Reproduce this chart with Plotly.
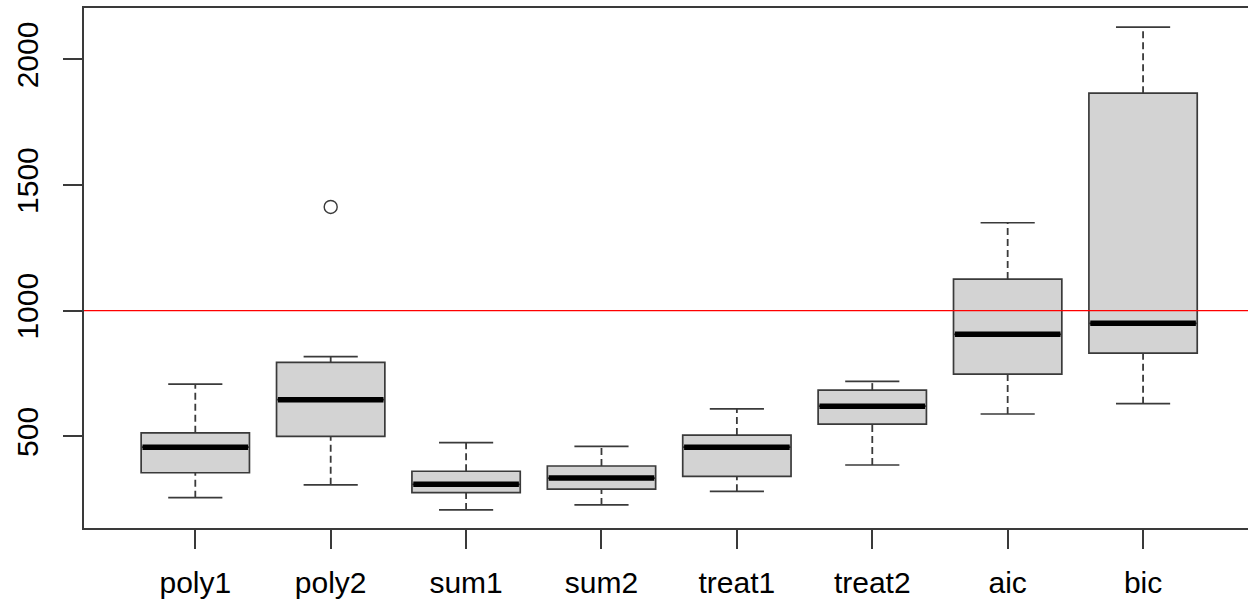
import plotly.graph_objects as go

# Box-plot summaries per model
categories = ["poly1", "poly2", "sum1", "sum2", "treat1", "treat2", "aic", "bic"]
lower_whisker = [256, 307, 207, 227, 281, 386, 589, 630]
q1 = [355, 500, 276, 290, 341, 549, 748, 831]
median = [457, 646, 309, 334, 457, 620, 906, 950]
q3 = [514, 794, 361, 382, 505, 684, 1126, 1866]
upper_whisker = [708, 817, 475, 460, 609, 719, 1350, 2129]

# Outliers (category, value)
outlier_cats = ["poly2"]
outlier_vals = [1413]

reference_level = 1000
y_ticks = [500, 1000, 1500, 2000]

positions = list(range(1, len(categories) + 1))
BOX_W = 0.8
STAPLE_W = 0.4
EDGE = "#3a3a3a"
FONT = "Liberation Sans, Arial, sans-serif"

fig = go.Figure()

# Box bodies (whiskers drawn separately as dashed lines)
fig.add_trace(go.Box(
    x=positions,
    q1=q1, median=median, q3=q3,
    lowerfence=q1, upperfence=q3,
    width=BOX_W,
    whiskerwidth=0,
    fillcolor="#D3D3D3",
    line=dict(color=EDGE, width=1.7),
    boxpoints=False,
    showlegend=False,
    hoverinfo="skip",
))

# Dashed whiskers
wx, wy = [], []
for p, lo, a, b, hi in zip(positions, lower_whisker, q1, q3, upper_whisker):
    wx += [p, p, None, p, p, None]
    wy += [lo, a, None, b, hi, None]
fig.add_trace(go.Scatter(
    x=wx, y=wy, mode="lines",
    line=dict(color=EDGE, width=1.8, dash="7px,4px"),
    showlegend=False, hoverinfo="skip",
))

# Whisker staples
sx, sy = [], []
for p, lo, hi in zip(positions, lower_whisker, upper_whisker):
    sx += [p - STAPLE_W / 2, p + STAPLE_W / 2, None, p - STAPLE_W / 2, p + STAPLE_W / 2, None]
    sy += [lo, lo, None, hi, hi, None]
fig.add_trace(go.Scatter(
    x=sx, y=sy, mode="lines",
    line=dict(color=EDGE, width=1.7),
    showlegend=False, hoverinfo="skip",
))

# Thick median bars
mx, my = [], []
for p, m in zip(positions, median):
    mx += [p - BOX_W / 2 + 0.01, p + BOX_W / 2 - 0.01, None]
    my += [m, m, None]
fig.add_trace(go.Scatter(
    x=mx, y=my, mode="lines",
    line=dict(color="black", width=5.5),
    showlegend=False, hoverinfo="skip",
))

# Outlier points
fig.add_trace(go.Scatter(
    x=[positions[categories.index(c)] for c in outlier_cats],
    y=outlier_vals,
    mode="markers",
    marker=dict(symbol="circle-open", size=13, color=EDGE, line=dict(width=1.4)),
    showlegend=False, hoverinfo="skip",
))

# Horizontal reference line
fig.add_shape(
    type="line", xref="paper", x0=0, x1=1, yref="y",
    y0=reference_level, y1=reference_level,
    line=dict(color="red", width=1.3),
)

fig.update_layout(
    width=1248, height=607,
    margin=dict(l=84, r=0, t=8, b=79),
    paper_bgcolor="white", plot_bgcolor="white",
    font=dict(family=FONT, size=30, color="black"),
    showlegend=False,
)
fig.update_xaxes(
    range=[0.178, 8.775],
    tickmode="array", tickvals=positions, ticktext=categories,
    ticks="outside", ticklen=19, tickwidth=1.5, tickcolor=EDGE,
    showline=True, linecolor=EDGE, linewidth=1.6, mirror=True,
    showgrid=False, zeroline=False,
    tickfont=dict(size=30, family=FONT, color="black"),
    ticklabelstandoff=8,
)
fig.update_yaxes(
    range=[135.2, 2204.8],
    tickmode="array", tickvals=y_ticks, ticktext=[str(v) for v in y_ticks],
    tickangle=-90,
    ticks="outside", ticklen=19, tickwidth=1.5, tickcolor=EDGE,
    showline=True, linecolor=EDGE, linewidth=1.6, mirror=False,
    showgrid=False, zeroline=False,
    tickfont=dict(size=30, family=FONT, color="black"),
    ticklabelstandoff=13,
)

fig.write_html("out.html")
